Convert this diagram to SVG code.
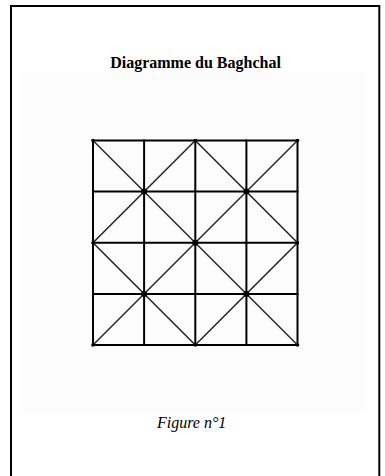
<svg xmlns="http://www.w3.org/2000/svg" width="385" height="476" viewBox="0 0 385 476">
<style>
.grid{stroke:#000;stroke-width:2;fill:none;stroke-linecap:square}
.diag{stroke:#222;stroke-width:1.5;fill:none}
.dot{fill:#000}
.title{font-family:"Liberation Serif","Times New Roman",serif;font-size:16px;font-weight:bold;fill:#000}
.cap{font-family:"Liberation Serif","Times New Roman",serif;font-size:16px;font-style:italic;fill:#000}
</style>
<rect x="0" y="0" width="385" height="476" fill="#fff"/>
<rect id="page" x="11" y="6" width="368.3" height="480" fill="#fff" stroke="#000" stroke-width="2"/>
<rect id="panel" x="23" y="72" width="344" height="341" fill="#fcfcfc"/>
<g id="title"><text class="title" x="195.5" y="68" text-anchor="middle">Diagramme du Baghchal</text></g>
<g id="board">
<g id="grid" class="grid">
<rect x="93" y="140.5" width="204.5" height="204.5"/>
<line x1="144.1" y1="140.5" x2="144.1" y2="345"/>
<line x1="195.3" y1="140.5" x2="195.3" y2="345"/>
<line x1="246.4" y1="140.5" x2="246.4" y2="345"/>
<line x1="93" y1="191.6" x2="297.5" y2="191.6"/>
<line x1="93" y1="242.8" x2="297.5" y2="242.8"/>
<line x1="93" y1="293.9" x2="297.5" y2="293.9"/>
</g>
<g id="connectors" class="diag">
<line x1="93" y1="140.5" x2="297.5" y2="345"/>
<line x1="297.5" y1="140.5" x2="93" y2="345"/>
<polygon points="195.3,140.5 297.5,242.8 195.3,345 93,242.8"/>
</g>
<g id="points" class="dot">
<circle cx="144.1" cy="191.6" r="3"/>
<circle cx="246.4" cy="191.6" r="3"/>
<circle cx="195.3" cy="242.8" r="3"/>
<circle cx="144.1" cy="293.9" r="3"/>
<circle cx="246.4" cy="293.9" r="3"/>
<circle cx="93" cy="140.5" r="1.8"/>
<circle cx="195.3" cy="140.5" r="1.8"/>
<circle cx="297.5" cy="140.5" r="1.8"/>
<circle cx="93" cy="242.8" r="1.8"/>
<circle cx="297.5" cy="242.8" r="1.8"/>
<circle cx="93" cy="345" r="1.8"/>
<circle cx="195.3" cy="345" r="1.8"/>
<circle cx="297.5" cy="345" r="1.8"/>
</g>
</g>
<g id="caption"><text class="cap" x="157" y="427.5">Figure n°1</text></g>
</svg>
